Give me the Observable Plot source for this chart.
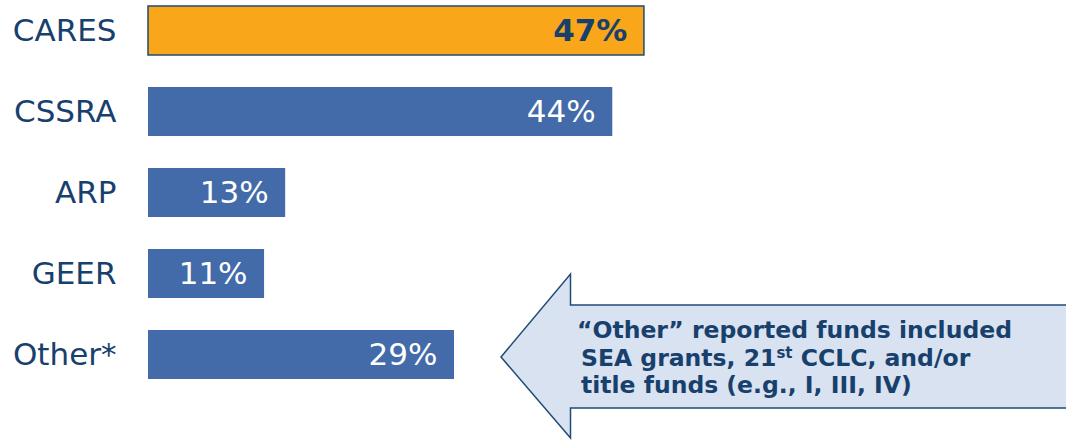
<!DOCTYPE html>
<html><head><meta charset="utf-8">
<script src="https://cdn.jsdelivr.net/npm/d3@7"></script>
<script src="https://cdn.jsdelivr.net/npm/@observablehq/plot@0.6"></script>
<style>
body{margin:0;background:#fff;}
svg{font-family:"DejaVu Sans",Verdana,sans-serif;}
</style>
</head><body><div id="chart"></div>
<script>
const categories = ["CARES", "CSSRA", "ARP", "GEER", "Other*"];
const values = [47, 44, 13, 11, 29];
const highlighted = ["CARES"];
const noteLines = [
  [{t: "\u201cOther\u201d reported funds included"}],
  [{t: "SEA grants, 21"}, {t: "st", sup: true}, {t: " CCLC, and/or"}],
  [{t: "title funds (e.g., I, III, IV)"}]
];

const navy = "#17406d";
const blue = "#436ba9";
const orange = "#faa61a";

const data = categories.map((name, i) => ({name, value: values[i], hi: highlighted.includes(name)}));

const plot = Plot.plot({
  width: 1066,
  height: 440,
  marginLeft: 148,
  marginRight: 0,
  marginTop: 5,
  marginBottom: 59,
  x: {domain: [0, 87], axis: null},
  y: {domain: categories, paddingInner: 0.39, paddingOuter: 0, axis: null},
  marks: [
    Plot.barX(data.filter(d => !d.hi), {x: "value", y: "name", fill: blue}),
    Plot.barX(data.filter(d => d.hi), {x: "value", y: "name", fill: orange, stroke: "#1f4b75", strokeWidth: 1.5}),
    Plot.axisY({tickSize: 0, tickPadding: 32, fontSize: 31, color: navy, label: null}),
    Plot.text(data.filter(d => !d.hi), {x: "value", y: "name", text: d => d.value + "%", textAnchor: "end", dx: -17, fill: "white", fontSize: 31}),
    Plot.text(data.filter(d => d.hi), {x: "value", y: "name", text: d => d.value + "%", textAnchor: "end", dx: -17, fill: navy, fontSize: 31, fontWeight: "bold"})
  ]
});
document.getElementById("chart").appendChild(plot);

// callout arrow annotation
const svg = d3.select(plot);
const arrow = [[1070, 305], [570.5, 305], [570.5, 274], [501, 357], [570.5, 438], [570.5, 408], [1070, 408]];
svg.append("path")
  .attr("d", "M" + arrow.map(p => p.join(",")).join("L"))
  .attr("fill", "#d9e2f0")
  .attr("stroke", "#1f4b75")
  .attr("stroke-width", 1.5);
const t = svg.append("text")
  .attr("fill", navy)
  .attr("text-anchor", "start")
  .attr("font-size", 23.5)
  .attr("font-weight", "bold");
noteLines.forEach((line, i) => {
  line.forEach((seg, j) => {
    const ts = t.append("tspan").text(seg.t);
    if (j === 0) ts.attr("x", i === 0 ? 577 : 581).attr("y", 338 + i * 27.5);
    if (seg.sup) ts.attr("font-size", 15).attr("dy", -8);
    if (j > 0 && line[j - 1].sup) ts.attr("dy", 8);
  });
});
</script>
</body></html>
